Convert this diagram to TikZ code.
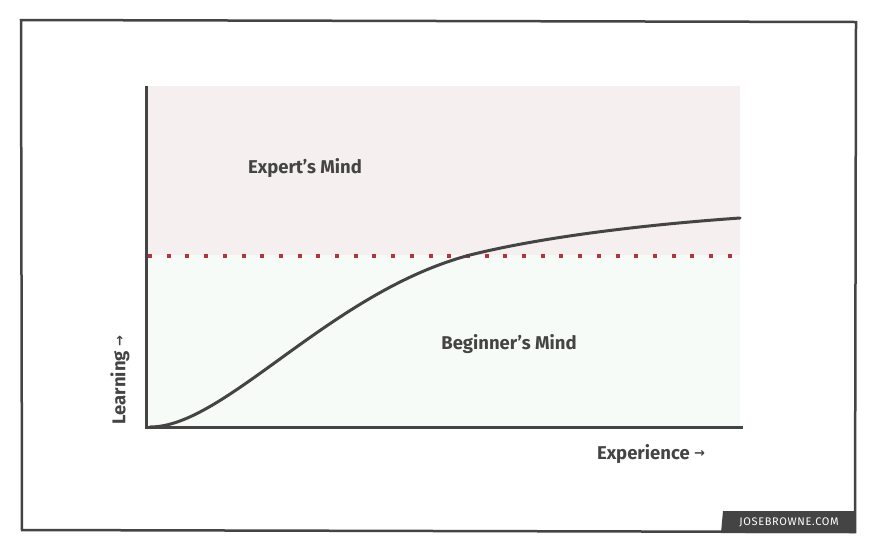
\documentclass[tikz,border=0pt]{standalone}
\usepackage{fontspec}
\setmainfont{Fira Sans}
\newfontfamily\arrowfont{DejaVu Sans}
\definecolor{ink}{HTML}{444444}
\definecolor{pinkbg}{HTML}{F5EFEF}
\definecolor{greenbg}{HTML}{F6FBF8}
\definecolor{dotred}{HTML}{B8323A}
\newcommand{\smallarrow}{\raisebox{0.15ex}{\arrowfont\fontsize{13}{13}\selectfont →}}
\tikzset{
  label/.style={text=ink, font=\bfseries\fontsize{18.5}{20}\selectfont, inner sep=0pt},
  frame/.style={draw=ink, line width=2.5pt, line join=miter},
  axis/.style={draw=ink, line width=3pt},
  curve/.style={draw=ink, line width=3pt, line cap=round},
  dots/.style={draw=dotred, line width=3.5pt, dash pattern=on 4pt off 14.7pt},
}
\begin{document}
\begin{tikzpicture}[x=1pt,y=-1pt]
\useasboundingbox (0,0) rectangle (880,550);
\fill[white] (0,0) rectangle (880,550);
% regions
\fill[pinkbg] (146,86) rectangle (740,255);
\fill[greenbg] (146,255) rectangle (740,426);
% frame
\coordinate (f1) at (21,20);
\coordinate (f2) at (856,22);
\coordinate (f3) at (855,532);
\coordinate (f4) at (22,530);
\draw[frame] (f1) -- (f2) -- (f3) -- (f4) -- cycle;
% threshold
\coordinate (d1) at (148,256);
\coordinate (d2) at (742,256);
\draw[dots] (d1) -- (d2);
% axes
\coordinate (o) at (146,427);
\coordinate (ytop) at (146,86);
\coordinate (xend) at (743,427);
\draw[axis] (ytop) -- (o) -- (xend);
% curve
\coordinate (c0) at (150,427);
\coordinate (c1) at (470,255);
\coordinate (c2) at (740,218);
\draw[curve] (c0) .. controls (225,427) and (330,292) .. (c1)
  .. controls (540,237.5) and (640,225) .. (c2);
% labels
\node[label] (expert) at (305,168) {Expert’s Mind};
\node[label] (beginner) at (509,344) {Beginner’s Mind};
\node[label, rotate=90] (learning) at (120,380) {Learning \smallarrow};
\node[label] (experience) at (651,454) {Experience \smallarrow};
% signature tab
\fill[ink] (723,511) -- (855,511) -- (855,533) -- (721,533) -- cycle;
\node[text=white, font=\fontsize{11}{12}\selectfont, inner sep=0pt] (sig) at (789,522) {\addfontfeature{LetterSpace=6}JOSEBROWNE.COM};
\end{tikzpicture}
\end{document}
